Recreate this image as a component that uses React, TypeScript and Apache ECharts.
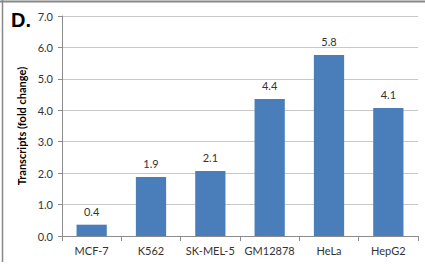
import React, { useEffect, useRef } from "react";
import * as echarts from "echarts";

const categories = ["MCF-7", "K562", "SK-MEL-5", "GM12878", "HeLa", "HepG2"];
const values = [0.36, 1.88, 2.07, 4.36, 5.76, 4.07];
const yTicks = { min: 0, max: 7, interval: 1 };
const panelLetter = "D.";
const yAxisName = "Transcripts (fold change)";

export default function App() {
  const ref = useRef<HTMLDivElement>(null);
  useEffect(() => {
    if (!ref.current) return;
    const chart = echarts.init(ref.current, null, { renderer: "svg" });
    const font = "Lato, 'Open Sans', sans-serif";
    chart.setOption({
      animation: false,
      backgroundColor: "#ffffff",
      textStyle: { fontFamily: font },
      grid: { left: 62, right: 7, top: 16, bottom: 28, containLabel: false },
      graphic: [
        { type: "line", shape: { x1: 0, y1: 1.5, x2: 425, y2: 1.5 }, style: { stroke: "#888888", lineWidth: 2 } },
        { type: "line", shape: { x1: 2.5, y1: 0, x2: 2.5, y2: 262 }, style: { stroke: "#888888", lineWidth: 1.5 } },
        {
          type: "text",
          left: 11,
          top: 10,
          style: { text: panelLetter, font: "bold 20px 'Liberation Sans', Arial, sans-serif", fill: "#000" },
        },
      ],
      xAxis: {
        type: "category",
        data: categories,
        axisLine: { lineStyle: { color: "#8c8c8c" } },
        axisTick: { show: true, length: 5, lineStyle: { color: "#8c8c8c" } },
        axisLabel: { color: "#333", fontSize: 11, margin: 9, interval: 0, fontFamily: font },
      },
      yAxis: {
        type: "value",
        min: yTicks.min,
        max: yTicks.max,
        interval: yTicks.interval,
        name: yAxisName,
        nameLocation: "middle",
        nameGap: 29,
        nameTextStyle: { fontWeight: "bold", fontSize: 11, color: "#000", fontFamily: font },
        axisLine: { show: true, lineStyle: { color: "#8c8c8c" } },
        axisTick: { show: true, length: 4, lineStyle: { color: "#8c8c8c" } },
        axisLabel: { color: "#333", fontSize: 11, margin: 9, fontFamily: font, formatter: (v: number) => v.toFixed(1) },
        splitLine: { lineStyle: { color: "#c8c8c8" } },
      },
      series: [
        {
          type: "bar",
          data: values,
          barWidth: "51%",
          itemStyle: { color: "#4A7EBB" },
          label: {
            show: true,
            position: "top",
            distance: 8,
            color: "#333",
            fontSize: 11,
            fontFamily: font,
            formatter: (p: any) => Number(p.value).toFixed(1),
          },
        },
      ],
    });
    return () => chart.dispose();
  }, []);
  return <div ref={ref} style={{ position: "fixed", left: 0, top: 0, width: 425, height: 264 }} />;
}
